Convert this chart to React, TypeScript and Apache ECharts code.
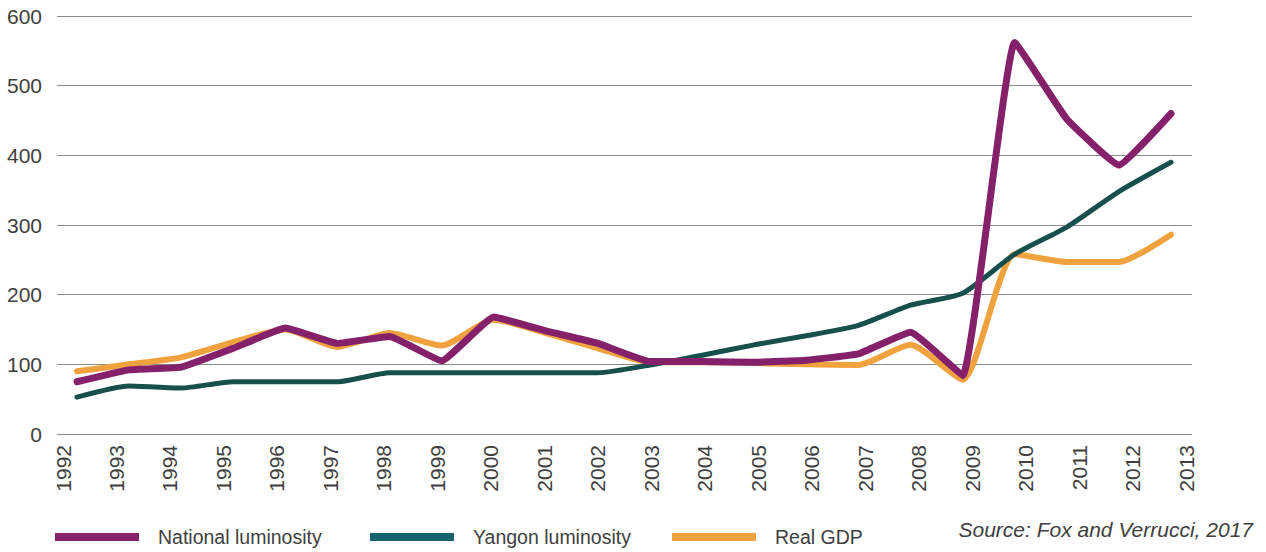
import React, { useEffect, useRef } from "react";
import * as echarts from "echarts";

const years = [
  "1992", "1993", "1994", "1995", "1996", "1997", "1998", "1999", "2000", "2001", "2002",
  "2003", "2004", "2005", "2006", "2007", "2008", "2009", "2010", "2011", "2012", "2013",
];
const nationalLuminosity = [75, 92, 96, 123, 152, 130, 140, 105, 168, 148, 130, 104, 104, 103, 106, 115, 146, 84, 562, 452, 386, 460];
const yangonLuminosity = [53, 69, 66, 75, 75, 75, 88, 88, 88, 88, 88, 99, 113, 128, 141, 156, 185, 202, 258, 297, 348, 390];
const realGDP = [90, 100, 110, 132, 150, 125, 145, 127, 164, 145, 123, 103, 103, 102, 100, 99, 128, 78, 258, 247, 247, 286];
const yTicks = [0, 100, 200, 300, 400, 500, 600];

const names = ["National luminosity", "Yangon luminosity", "Real GDP"];
const lineColors = ["#85216a", "#174f4c", "#f0a23f"];
const legendColors = ["#85216a", "#17646e", "#f0a23f"];

const FONT = "'Liberation Sans Narrow', 'Arial Narrow', 'Liberation Sans', Arial, sans-serif";

export default function App() {
  const ref = useRef<HTMLDivElement>(null);
  useEffect(() => {
    if (!ref.current) return;
    const chart = echarts.init(ref.current, null, { renderer: "svg" });
    const top = 16;
    const bottom = 552 - 434;
    const legendLefts = [50, 365, 667];
    chart.setOption({
      animation: false,
      backgroundColor: "#ffffff",
      grid: [
        { left: 63, right: 1266 - 1186, top, bottom },
        { left: 57, right: 1266 - 1192, top, bottom },
        { left: 77, right: 1266 - 1171, top, bottom },
      ],
      xAxis: [
        {
          type: "category",
          gridIndex: 0,
          data: years,
          boundaryGap: false,
          axisLine: { show: false },
          axisTick: { show: false },
          splitLine: { show: false },
          axisLabel: {
            rotate: 90,
            margin: 11,
            interval: 0,
            color: "#404040",
            fontSize: 21,
            fontFamily: FONT,
          },
        },
        { type: "value", gridIndex: 1, min: 0, max: 1, show: false },
        { type: "category", gridIndex: 2, data: years, boundaryGap: false, show: false },
      ],
      yAxis: [
        { type: "value", gridIndex: 0, min: 0, max: 600, show: false },
        {
          type: "value",
          gridIndex: 1,
          min: yTicks[0],
          max: yTicks[yTicks.length - 1],
          interval: 100,
          axisLine: { show: false },
          axisTick: { show: false },
          splitLine: { show: true, lineStyle: { color: "#8c8c8c", width: 1 } },
          axisLabel: {
            margin: 15,
            color: "#404040",
            fontSize: 21,
            fontFamily: FONT,
          },
        },
        { type: "value", gridIndex: 2, min: 0, max: 600, show: false },
      ],
      legend: names.map((n, i) => ({
        left: legendLefts[i],
        top: 522,
        data: [{ name: n, itemStyle: { color: legendColors[i] } }],
        icon: "rect",
        itemWidth: 84,
        itemHeight: 8,
        itemGap: 0,
        selectedMode: false,
        textStyle: {
          color: "#404040",
          fontSize: 19.5,
          fontFamily: FONT,
          padding: [0, 0, 0, 14],
        },
      })),
      graphic: [
        {
          type: "text",
          right: 1266 - 1253,
          top: 519,
          style: {
            text: "Source: Fox and Verrucci, 2017",
            fill: "#404040",
            font: `italic 21px ${FONT}`,
          },
        },
      ],
      series: [
        {
          name: names[2],
          type: "line",
          xAxisIndex: 2,
          yAxisIndex: 2,
          data: realGDP,
          symbol: "none",
          smooth: 0.2,
          lineStyle: { color: lineColors[2], width: 6, cap: "round", join: "round" },
          itemStyle: { color: lineColors[2] },
        },
        {
          name: names[1],
          type: "line",
          xAxisIndex: 2,
          yAxisIndex: 2,
          data: yangonLuminosity,
          symbol: "none",
          smooth: 0.2,
          lineStyle: { color: lineColors[1], width: 5, cap: "round", join: "round" },
          itemStyle: { color: lineColors[1] },
        },
        {
          name: names[0],
          type: "line",
          xAxisIndex: 2,
          yAxisIndex: 2,
          data: nationalLuminosity,
          symbol: "none",
          smooth: 0.1,
          lineStyle: { color: lineColors[0], width: 7, cap: "round", join: "round" },
          itemStyle: { color: lineColors[0] },
        },
      ],
    });
    return () => chart.dispose();
  }, []);
  return <div ref={ref} style={{ width: 1266, height: 552, position: "absolute", left: 0, top: 0 }} />;
}
